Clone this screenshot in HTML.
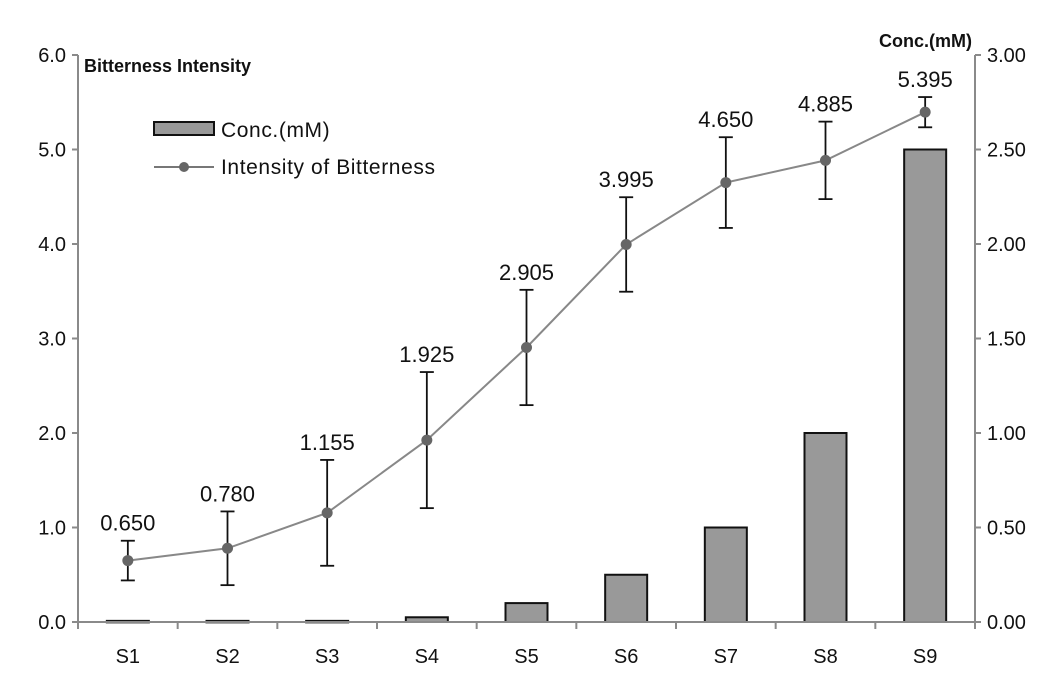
<!DOCTYPE html>
<html><head><meta charset="utf-8"><style>
html,body{margin:0;padding:0;background:#fff;}
svg{display:block;font-family:"Liberation Sans",sans-serif;}
</style></head><body>
<svg id="chart" width="1063" height="680" xmlns="http://www.w3.org/2000/svg"></svg>
<script>
const categories = ["S1","S2","S3","S4","S5","S6","S7","S8","S9"];
const concValues = [0.006,0.006,0.006,0.025,0.1,0.25,0.5,1.0,2.5];
const intensityValues = [0.650,0.780,1.155,1.925,2.905,3.995,4.650,4.885,5.395];
const intensityLabels = ["0.650","0.780","1.155","1.925","2.905","3.995","4.650","4.885","5.395"];
const errorValues = [0.21,0.39,0.56,0.72,0.61,0.5,0.48,0.41,0.16];
const leftTicks = [0,1,2,3,4,5,6];
const leftTickLabels = ["0.0","1.0","2.0","3.0","4.0","5.0","6.0"];
const rightTicks = [0,0.5,1,1.5,2,2.5,3];
const rightTickLabels = ["0.00","0.50","1.00","1.50","2.00","2.50","3.00"];

const NS="http://www.w3.org/2000/svg";
const svg=document.getElementById('chart');
const X0=78,X1=975,Y0=622,Y1=55;
const bw=(X1-X0)/categories.length;
const xC=i=>X0+bw*(i+0.5);
const yL=v=>Y0-(v/6)*(Y0-Y1);
const yR=v=>Y0-(v/3)*(Y0-Y1);
function mk(tag,attrs,parent){const e=document.createElementNS(NS,tag);for(const k in attrs)e.setAttribute(k,attrs[k]);(parent||svg).appendChild(e);return e;}
const axisCol="#8a8a8a";

concValues.forEach((v,i)=>{
  const y=yR(v);
  const r=mk('rect',{x:xC(i)-21,y:y,width:42,height:Math.max(Y0-y,1.5),fill:"#999",stroke:"#111","stroke-width":2});
  
  
});

let a=mk('line',{x1:X0,y1:Y1,x2:X0,y2:Y0,stroke:axisCol,"stroke-width":2});

a=mk('line',{x1:X1,y1:Y1,x2:X1,y2:Y0,stroke:axisCol,"stroke-width":2});

a=mk('line',{x1:X0-6,y1:Y0,x2:X1+6,y2:Y0,stroke:axisCol,"stroke-width":2});


leftTicks.forEach((v,i)=>{
  mk('line',{x1:X0-6,y1:yL(v),x2:X0,y2:yL(v),stroke:axisCol,"stroke-width":2});
  const t=mk('text',{x:X0-12,y:yL(v)+7,"text-anchor":"end","font-size":20,fill:"#111"});
  t.textContent=leftTickLabels[i];
  
});
rightTicks.forEach((v,i)=>{
  mk('line',{x1:X1,y1:yR(v),x2:X1+6,y2:yR(v),stroke:axisCol,"stroke-width":2});
  const t=mk('text',{x:X1+12,y:yR(v)+7,"text-anchor":"start","font-size":20,fill:"#111"});
  t.textContent=rightTickLabels[i];
  
});
for(let i=0;i<=categories.length;i++){
  mk('line',{x1:X0+bw*i,y1:Y0,x2:X0+bw*i,y2:Y0+7,stroke:axisCol,"stroke-width":2});
}
categories.forEach((c,i)=>{
  const t=mk('text',{x:xC(i),y:Y0+41,"text-anchor":"middle","font-size":20,fill:"#111"});
  t.textContent=c;
  
});

const pts=intensityValues.map((v,i)=>xC(i)+","+yL(v)).join(" ");
const pl=mk('polyline',{points:pts,fill:"none",stroke:"#888","stroke-width":2});


intensityValues.forEach((v,i)=>{
  const x=xC(i),e=errorValues[i];
  const g=mk('g',{});
  
  
  mk('line',{x1:x,y1:yL(v+e),x2:x,y2:yL(v-e),stroke:"#111","stroke-width":1.8},g);
  mk('line',{x1:x-7,y1:yL(v+e),x2:x+7,y2:yL(v+e),stroke:"#111","stroke-width":1.8},g);
  mk('line',{x1:x-7,y1:yL(v-e),x2:x+7,y2:yL(v-e),stroke:"#111","stroke-width":1.8},g);
  const c=mk('circle',{cx:x,cy:yL(v),r:5.5,fill:"#666"});
  
  
  const t=mk('text',{x:x,y:yL(v+e)-10,"text-anchor":"middle","font-size":22,fill:"#111"});
  t.textContent=intensityLabels[i];
  
});
</script>
<svg width="1063" height="680" style="position:absolute;left:0;top:0;font-family:'Liberation Sans',sans-serif">
  <text x="84" y="72" font-size="18" font-weight="bold" fill="#111">Bitterness Intensity</text>
  <text x="972" y="47" font-size="18" font-weight="bold" fill="#111" text-anchor="end">Conc.(mM)</text>
  <g>
    <rect x="154" y="122" width="60" height="13" fill="#999" stroke="#111" stroke-width="2"/>
    <text x="221" y="137" font-size="21" letter-spacing="0.6" fill="#111">Conc.(mM)</text>
    <line x1="154" y1="167" x2="214" y2="167" stroke="#777" stroke-width="2"/>
    <circle cx="184" cy="167" r="5" fill="#666"/>
    <text x="221" y="174" font-size="21" letter-spacing="0.6" fill="#111">Intensity of Bitterness</text>
  </g>
</svg>
</body></html>
